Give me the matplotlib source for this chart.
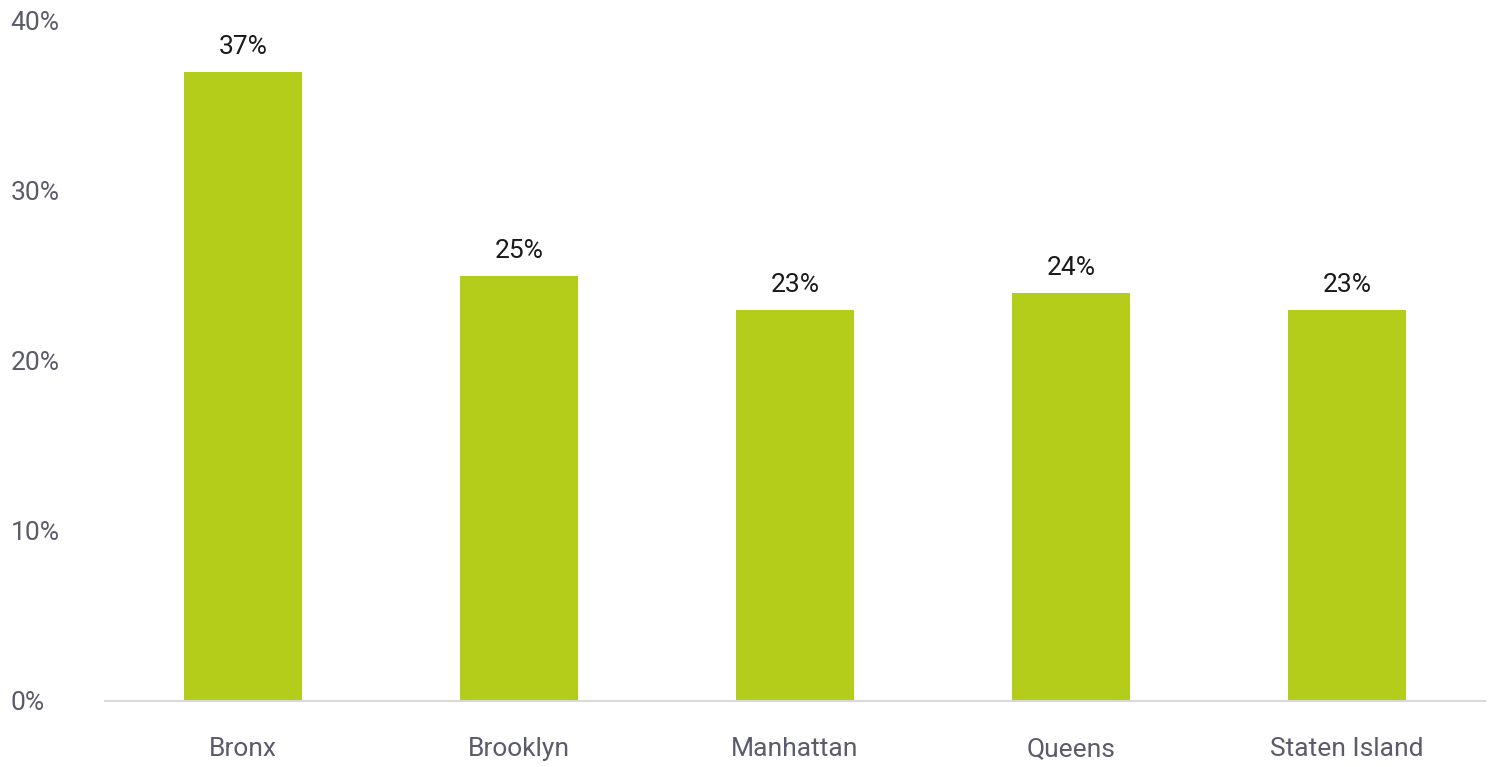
import matplotlib as mpl
mpl.use("Agg")
import matplotlib.pyplot as plt
from matplotlib.ticker import FuncFormatter

boroughs = ["Bronx", "Brooklyn", "Manhattan", "Queens", "Staten Island"]
shares = [37, 25, 23, 24, 23]
y_ticks = [0, 10, 20, 30, 40]

plt.rcParams["font.family"] = ["Roboto", "DejaVu Sans"]

fig = plt.figure(figsize=(14.88, 7.67), dpi=100)
ax = fig.add_axes([105/1488, 66/767, 1380/1488, 680/767])

x = range(len(boroughs))
ax.bar(x, shares, width=0.43, color="#B4CD1A", zorder=2)
for xi, v in zip(x, shares):
    ax.text(xi, v + 0.75, f"{v}%", ha="center", va="bottom", fontsize=19,
            color="#1a1a1a")

ax.set_xlim(-0.5, len(boroughs) - 0.5)
ax.set_ylim(0, 40)
ax.set_yticks(y_ticks)
ax.yaxis.set_major_formatter(FuncFormatter(lambda v, p: f"{v:.0f}%"))
ax.set_xticks(list(x))
ax.set_xticklabels(boroughs)
ax.tick_params(axis="both", length=0, labelsize=19, labelcolor="#5B5B6B")
ax.tick_params(axis="x", pad=26)
ax.tick_params(axis="y", pad=68)
for lab in ax.get_yticklabels():
    lab.set_horizontalalignment("left")

for s in ("top", "right", "left"):
    ax.spines[s].set_visible(False)
ax.spines["bottom"].set_color("#D9D9D9")
ax.spines["bottom"].set_linewidth(1.5)

fig.savefig("out.png", dpi=100)
